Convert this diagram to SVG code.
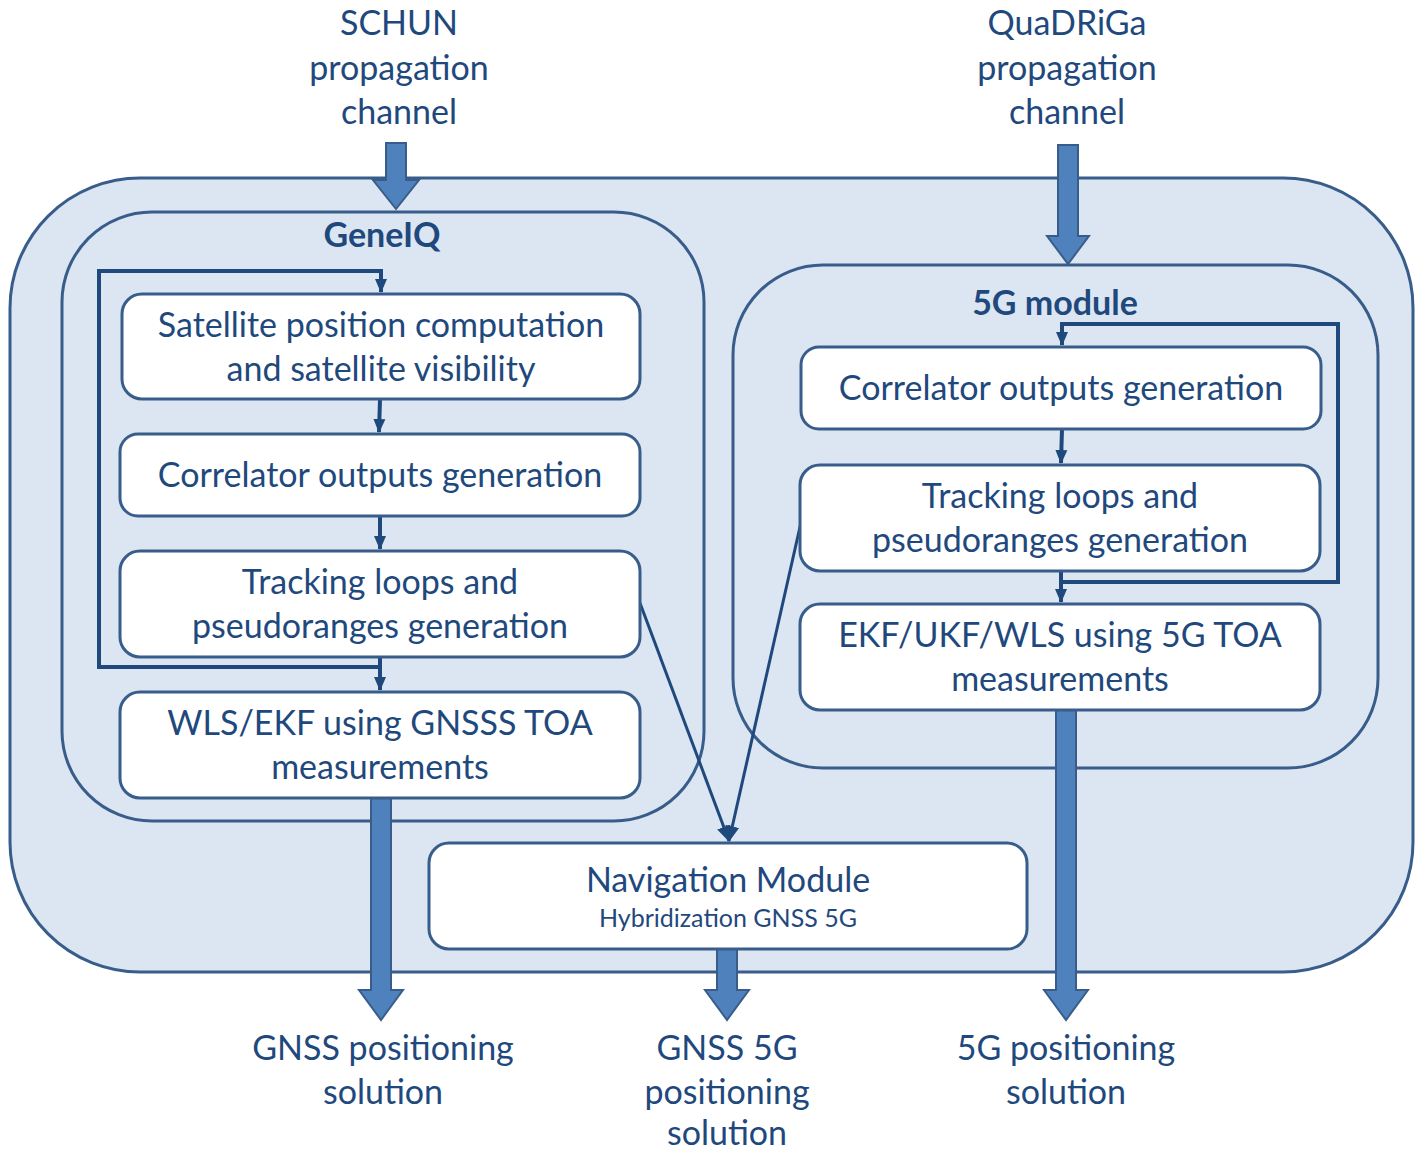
<svg xmlns="http://www.w3.org/2000/svg" width="1423" height="1153" viewBox="0 0 1423 1153">
<defs>
<style>
.cont{fill:#dce6f2;stroke:#385d8a;stroke-width:3}
.box{fill:#ffffff;stroke:#385d8a;stroke-width:3}
.t{font-family:Lato,"Open Sans",sans-serif;fill:#1f497d;text-anchor:middle}
.big{font-size:34px}
.ttl{font-size:34px;font-weight:bold}
.small{font-size:25px}
.fat{fill:#4f81bd;stroke:#385d8a;stroke-width:2}
.ln{fill:none;stroke:#1f497d;stroke-width:4}
.thin{fill:none;stroke:#1f497d;stroke-width:3}
</style>
<marker id="ah" markerWidth="14" markerHeight="14" refX="13" refY="7" orient="auto" markerUnits="userSpaceOnUse" viewBox="0 0 14 14">
<path d="M0,1 L14,7 L0,13 z" fill="#1f497d"/>
</marker>
<marker id="ah2" markerWidth="16" markerHeight="16" refX="15" refY="8" orient="auto" markerUnits="userSpaceOnUse" viewBox="0 0 16 16">
<path d="M0,1 L16,8 L0,15 z" fill="#1f497d"/>
</marker>
</defs>

<g id="outer"><rect class="cont" x="10" y="178" width="1403" height="794" rx="130" ry="130"/></g>
<g id="geneiq"><rect class="cont" x="62" y="212" width="642" height="609" rx="90" ry="90"/>
<text class="t ttl" x="382" y="247">GeneIQ</text></g>
<g id="module5g"><rect class="cont" x="733" y="265" width="645" height="503" rx="90" ry="90"/>
<text class="t ttl" x="1055" y="315">5G module</text></g>

<g id="labels">
<text class="t big" x="399" y="35">SCHUN</text>
<text class="t big" x="399" y="80">propagation</text>
<text class="t big" x="399" y="124">channel</text>
<text class="t big" x="1067" y="35">QuaDRiGa</text>
<text class="t big" x="1067" y="80">propagation</text>
<text class="t big" x="1067" y="124">channel</text>
<text class="t big" x="383" y="1060">GNSS positioning</text>
<text class="t big" x="383" y="1104">solution</text>
<text class="t big" x="727" y="1060">GNSS 5G</text>
<text class="t big" x="727" y="1104">positioning</text>
<text class="t big" x="727" y="1145">solution</text>
<text class="t big" x="1066" y="1060">5G positioning</text>
<text class="t big" x="1066" y="1104">solution</text>
</g>

<g id="connectors">
<path class="fat" d="M386,143 H406 V180 H419 L396,209 L373,180 H386 Z"/>
<path class="fat" d="M1058,145 H1078 V236 H1089 L1068,264 L1047,236 H1058 Z"/>
<path class="fat" d="M371,797 H391 V990 H403 L381,1020 L359,990 H371 Z"/>
<path class="fat" d="M717,949 H737 V990 H749 L727,1020 L705,990 H717 Z"/>
<path class="fat" d="M1056,710 H1076 V990 H1088 L1066,1020 L1044,990 H1056 Z"/>
<path class="ln" d="M380,657 V667 H99 V271 H381 V292" marker-end="url(#ah)"/>
<path class="ln" d="M380,657 V690" marker-end="url(#ah)"/>
<path class="ln" d="M380,399 L379,432" marker-end="url(#ah)"/>
<path class="ln" d="M380,516 V549" marker-end="url(#ah)"/>
<path class="ln" d="M1061,571 V582 H1338 V324 H1062 V345" marker-end="url(#ah)"/>
<path class="ln" d="M1061,571 V602" marker-end="url(#ah)"/>
<path class="ln" d="M1062,429 L1061,463" marker-end="url(#ah)"/>
<path class="thin" d="M640,603 L729,841" marker-end="url(#ah2)"/>
<path class="thin" d="M802,518 L729,841" marker-end="url(#ah2)"/>
</g>

<g id="sat"><rect class="box" x="122" y="294" width="518" height="105" rx="20"/>
<text class="t big" x="381" y="337">Satellite position computation</text>
<text class="t big" x="381" y="381">and satellite visibility</text></g>
<g id="corr1"><rect class="box" x="120" y="434" width="520" height="82" rx="18"/>
<text class="t big" x="380" y="487">Correlator outputs generation</text></g>
<g id="track1"><rect class="box" x="120" y="551" width="520" height="106" rx="20"/>
<text class="t big" x="380" y="594">Tracking loops and</text>
<text class="t big" x="380" y="638">pseudoranges generation</text></g>
<g id="wls"><rect class="box" x="120" y="692" width="520" height="106" rx="20"/>
<text class="t big" x="380" y="735">WLS/EKF using GNSSS TOA</text>
<text class="t big" x="380" y="779">measurements</text></g>

<g id="corr2"><rect class="box" x="801" y="347" width="520" height="82" rx="18"/>
<text class="t big" x="1061" y="400">Correlator outputs generation</text></g>
<g id="track2"><rect class="box" x="800" y="465" width="520" height="106" rx="20"/>
<text class="t big" x="1060" y="508">Tracking loops and</text>
<text class="t big" x="1060" y="552">pseudoranges generation</text></g>
<g id="ekf"><rect class="box" x="800" y="604" width="520" height="106" rx="20"/>
<text class="t big" x="1060" y="647">EKF/UKF/WLS using 5G TOA</text>
<text class="t big" x="1060" y="691">measurements</text></g>

<g id="nav"><rect class="box" x="429" y="843" width="598" height="106" rx="20"/>
<text class="t big" x="728" y="892">Navigation Module</text>
<text class="t small" x="728" y="927">Hybridization GNSS 5G</text></g>
</svg>
